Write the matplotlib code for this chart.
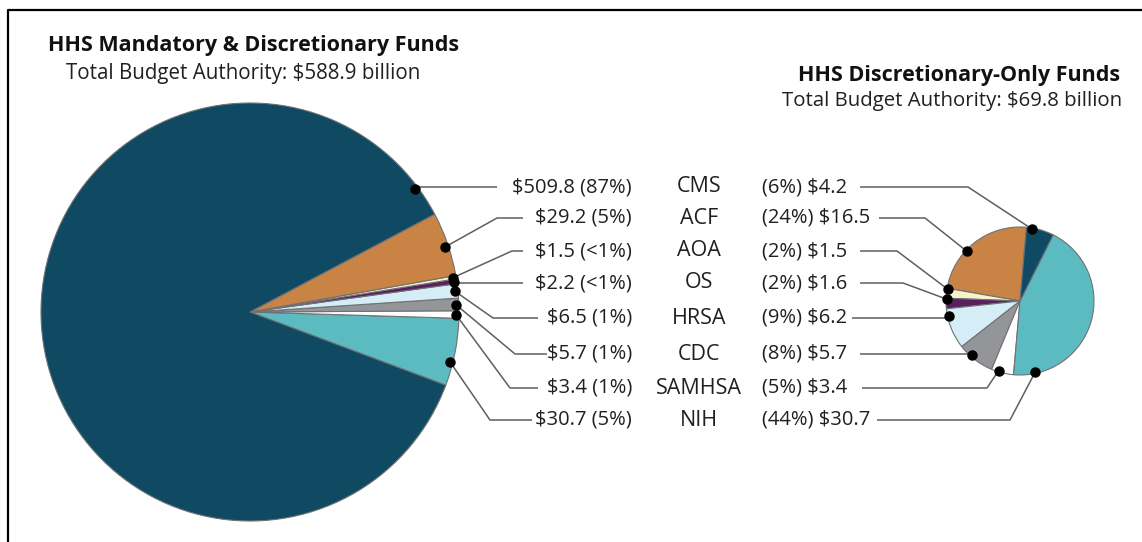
import numpy as np
import matplotlib
matplotlib.use("Agg")
import matplotlib.pyplot as plt

W, H = 1142, 542

agencies = ["CMS", "ACF", "AOA", "OS", "HRSA", "CDC", "SAMHSA", "NIH"]
total_vals = [509.8, 29.2, 1.5, 2.2, 6.5, 5.7, 3.4, 30.7]
total_pct = ["87%", "5%", "<1%", "<1%", "1%", "1%", "1%", "5%"]
disc_vals = [4.2, 16.5, 1.5, 1.6, 6.2, 5.7, 3.4, 30.7]
disc_pct = ["6%", "24%", "2%", "2%", "9%", "8%", "5%", "44%"]

colors = {"CMS": "#0f4a62", "ACF": "#c98345", "AOA": "#f7f3c9", "OS": "#5a1e5f",
          "HRSA": "#d5edf6", "CDC": "#939598", "SAMHSA": "#ffffff", "NIH": "#5bbbc1"}

# slice order (counterclockwise) for each pie
left_order = ["NIH", "SAMHSA", "CDC", "HRSA", "OS", "AOA", "ACF", "CMS"]
right_order = ["ACF", "AOA", "OS", "HRSA", "CDC", "SAMHSA", "NIH", "CMS"]

# layout (image pixel coords, y measured from top)
rows = [187, 218, 251, 283, 318, 354, 388, 420]
left_c, left_r = (250, 312), 209
right_c, right_r = (1020, 301), 74
# where the dot sits inside each wedge (fraction of wedge angle), by agency
left_frac = {"CMS": 0.028, "ACF": 0.47, "AOA": 0.5, "OS": 0.5, "HRSA": 0.5,
             "CDC": 0.5, "SAMHSA": 0.5, "NIH": 0.35}
right_frac = {"CMS": 0.79, "ACF": 0.61, "AOA": 0.1, "OS": 0.1, "HRSA": 0.18,
              "CDC": 0.35, "SAMHSA": 0.31, "NIH": 0.107}
left_bend = [None, 497, 512, None, 493, 515, 510, 490]
left_end = [497, 523, 523, 523, 538, 547, 538, 532]
right_bend = [968, 925, 897, 903, None, None, 987, 1010]
right_end = [860, 879, 860, 860, 852, 860, 862, 877]

plt.rcParams["font.family"] = ["Open Sans", "DejaVu Sans"]

fig = plt.figure(figsize=(W / 100, H / 100), dpi=100)
ax = fig.add_axes([0, 0, 1, 1])


def iy(y):
    return H - y


def draw_pie(vals_by_name, order, center, radius, startangle, fracs):
    vals = [vals_by_name[n] for n in order]
    wedges, _ = ax.pie(vals, colors=[colors[n] for n in order], startangle=startangle,
                       counterclock=True, center=(center[0], iy(center[1])), radius=radius,
                       wedgeprops=dict(edgecolor="#707174", linewidth=0.8))
    dots = {}
    for n, w in zip(order, wedges):
        a = np.deg2rad(w.theta1 + fracs[n] * (w.theta2 - w.theta1))
        rr = radius * 0.985
        dots[n] = (center[0] + rr * np.cos(a), iy(center[1]) + rr * np.sin(a))
    return dots


ldots = draw_pie(dict(zip(agencies, total_vals)), left_order, left_c, left_r, -20.5, left_frac)
rdots = draw_pie(dict(zip(agencies, disc_vals)), right_order, right_c, right_r, 85, right_frac)

line_kw = dict(color="#5e5f61", lw=1.1, solid_capstyle="butt", zorder=3)
for i, name in enumerate(agencies):
    y = iy(rows[i])
    # left side leader
    dx, dy = ldots[name]
    bx = dx if left_bend[i] is None else left_bend[i]
    ax.plot([dx, bx, left_end[i]], [dy, y, y], **line_kw)
    ax.plot(dx, dy, "o", color="black", ms=6.5, zorder=4)
    # right side leader
    dx, dy = rdots[name]
    bx = dx if right_bend[i] is None else right_bend[i]
    ax.plot([dx, bx, right_end[i]], [dy, y, y], **line_kw)
    ax.plot(dx, dy, "o", color="black", ms=6.5, zorder=4)

    ax.text(632, y, f"${total_vals[i]:.1f} ({total_pct[i]})", ha="right", va="center",
            fontsize=14.5, color="#231f20")
    ax.text(699, y, name, ha="center", va="center", fontsize=15.5, color="#231f20")
    ax.text(762, y, f"({disc_pct[i]}) ${disc_vals[i]:.1f}", ha="left", va="center",
            fontsize=14.5, color="#231f20")

ax.text(48, iy(46), "HHS Mandatory & Discretionary Funds", ha="left", va="center",
        fontsize=15.5, fontweight="bold", color="#111111")
ax.text(66, iy(73), "Total Budget Authority: $588.9 billion", ha="left", va="center",
        fontsize=14.8, color="#231f20")
ax.text(1120, iy(76), "HHS Discretionary-Only Funds", ha="right", va="center",
        fontsize=15.5, fontweight="bold", color="#111111")
ax.text(1122, iy(101), "Total Budget Authority: $69.8 billion", ha="right", va="center",
        fontsize=14.7, color="#231f20")

# frame
ax.plot([8, 8, W], [0, iy(10), iy(10)], color="black", lw=1.6, solid_capstyle="butt")

ax.set_xlim(0, W)
ax.set_ylim(0, H)
ax.set_aspect("equal")
ax.axis("off")

fig.savefig("out.png", dpi=100)
